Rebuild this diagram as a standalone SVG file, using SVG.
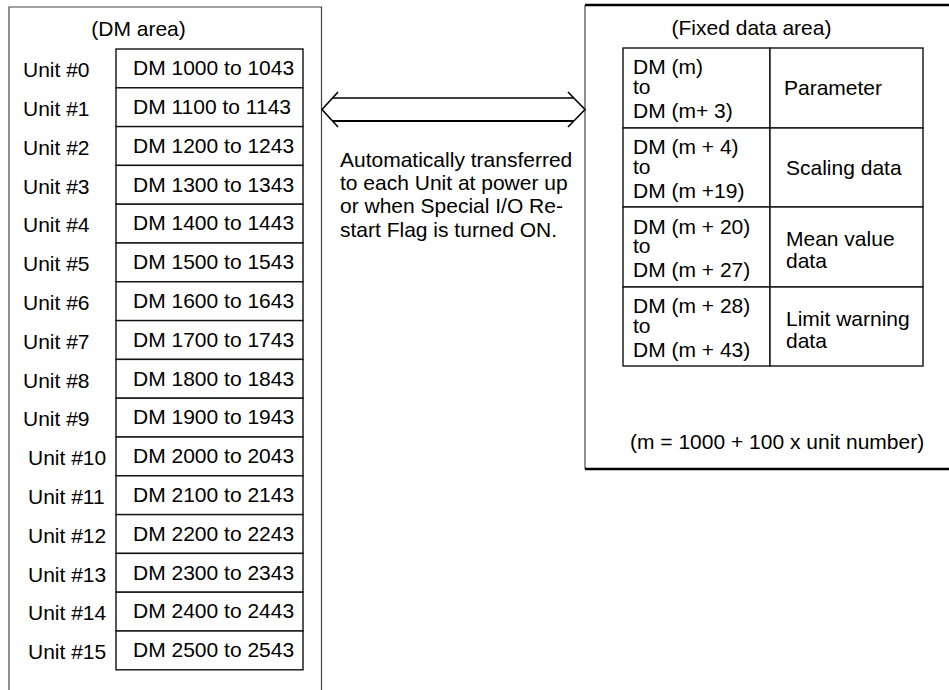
<svg xmlns="http://www.w3.org/2000/svg" width="949" height="690" viewBox="0 0 949 690">
<style>
text{font-family:"Liberation Sans",Arial,sans-serif;font-size:21px;fill:#000}
.frame{fill:none;stroke:#444;stroke-width:1.2}
.cell{fill:#fff;stroke:#111;stroke-width:1.4}
.thick{fill:none;stroke:#000;stroke-width:2.5}
.arr{fill:none;stroke:#000;stroke-linejoin:miter}
</style>
<rect width="949" height="690" fill="#fff"/>
<g id="dm-area">
<path class="frame" d="M9,700 V7 H321.5 V700"/>
<text x="138.5" y="36" text-anchor="middle">(DM area)</text>
</g>
<g id="unit0"><rect class="cell" x="116" y="49" width="187" height="38.8"/><text x="23" y="77">Unit #0</text><text x="133" y="75">DM 1000 to 1043</text></g>
<g id="unit1"><rect class="cell" x="116" y="87.8" width="187" height="38.8"/><text x="23" y="116">Unit #1</text><text x="133" y="114">DM 1100 to 1143</text></g>
<g id="unit2"><rect class="cell" x="116" y="126.6" width="187" height="38.8"/><text x="23" y="155">Unit #2</text><text x="133" y="153">DM 1200 to 1243</text></g>
<g id="unit3"><rect class="cell" x="116" y="165.4" width="187" height="38.8"/><text x="23" y="194">Unit #3</text><text x="133" y="192">DM 1300 to 1343</text></g>
<g id="unit4"><rect class="cell" x="116" y="204.2" width="187" height="38.8"/><text x="23" y="232">Unit #4</text><text x="133" y="230">DM 1400 to 1443</text></g>
<g id="unit5"><rect class="cell" x="116" y="243" width="187" height="38.8"/><text x="23" y="271">Unit #5</text><text x="133" y="269">DM 1500 to 1543</text></g>
<g id="unit6"><rect class="cell" x="116" y="281.8" width="187" height="38.8"/><text x="23" y="310">Unit #6</text><text x="133" y="308">DM 1600 to 1643</text></g>
<g id="unit7"><rect class="cell" x="116" y="320.6" width="187" height="38.8"/><text x="23" y="349">Unit #7</text><text x="133" y="347">DM 1700 to 1743</text></g>
<g id="unit8"><rect class="cell" x="116" y="359.4" width="187" height="38.8"/><text x="23" y="388">Unit #8</text><text x="133" y="386">DM 1800 to 1843</text></g>
<g id="unit9"><rect class="cell" x="116" y="398.2" width="187" height="38.8"/><text x="23" y="426">Unit #9</text><text x="133" y="424">DM 1900 to 1943</text></g>
<g id="unit10"><rect class="cell" x="116" y="437" width="187" height="38.8"/><text x="28" y="465">Unit #10</text><text x="133" y="463">DM 2000 to 2043</text></g>
<g id="unit11"><rect class="cell" x="116" y="475.8" width="187" height="38.8"/><text x="28" y="504">Unit #11</text><text x="133" y="502">DM 2100 to 2143</text></g>
<g id="unit12"><rect class="cell" x="116" y="514.6" width="187" height="38.8"/><text x="28" y="543">Unit #12</text><text x="133" y="541">DM 2200 to 2243</text></g>
<g id="unit13"><rect class="cell" x="116" y="553.4" width="187" height="38.8"/><text x="28" y="582">Unit #13</text><text x="133" y="580">DM 2300 to 2343</text></g>
<g id="unit14"><rect class="cell" x="116" y="592.2" width="187" height="38.8"/><text x="28" y="620">Unit #14</text><text x="133" y="618">DM 2400 to 2443</text></g>
<g id="unit15"><rect class="cell" x="116" y="631" width="187" height="38.8"/><text x="28" y="659">Unit #15</text><text x="133" y="657">DM 2500 to 2543</text></g>
<g id="fixed-area">
<path class="frame" d="M585,5 V469"/>
<path class="thick" d="M585,5 H960 M585,469 H960"/>
<text x="751.5" y="35" text-anchor="middle">(Fixed data area)</text>
<text x="630" y="449">(m = 1000 + 100 x unit number)</text>
</g>
<g id="row-parameter">
<rect class="cell" x="623" y="48" width="147" height="80"/><rect class="cell" x="770" y="48" width="153" height="80"/>
<text x="633" y="74">DM (m)</text><text x="633" y="94">to</text><text x="633" y="118">DM (m+ 3)</text>
<text x="784" y="95">Parameter</text>
</g>
<g id="row-scaling">
<rect class="cell" x="623" y="128" width="147" height="79"/><rect class="cell" x="770" y="128" width="153" height="79"/>
<text x="633" y="154">DM (m + 4)</text><text x="633" y="174">to</text><text x="633" y="198">DM (m +19)</text>
<text x="786" y="175">Scaling data</text>
</g>
<g id="row-mean">
<rect class="cell" x="623" y="207" width="147" height="80"/><rect class="cell" x="770" y="207" width="153" height="80"/>
<text x="633" y="234">DM (m + 20)</text><text x="633" y="253">to</text><text x="633" y="277">DM (m + 27)</text>
<text x="786" y="246">Mean value</text><text x="786" y="268">data</text>
</g>
<g id="row-limit">
<rect class="cell" x="623" y="287" width="147" height="79"/><rect class="cell" x="770" y="287" width="153" height="79"/>
<text x="633" y="313">DM (m + 28)</text><text x="633" y="333">to</text><text x="633" y="357">DM (m + 43)</text>
<text x="786" y="326">Limit warning</text><text x="786" y="348">data</text>
</g>
<g id="connectors">
<path class="arr" stroke-width="1.6" d="M338,92 L322,109.5 L338,127 M568,92 L585,109.5 L568,127"/>
<path class="arr" stroke-width="1.3" d="M332,98 H574"/>
<path class="arr" stroke-width="2" d="M333,121 H574"/>
</g>
<g id="note">
<text x="340" y="167">Automatically transferred</text>
<text x="340" y="190">to each Unit at power up</text>
<text x="340" y="213">or when Special I/O Re-</text>
<text x="340" y="237">start Flag is turned ON.</text>
</g>
</svg>
